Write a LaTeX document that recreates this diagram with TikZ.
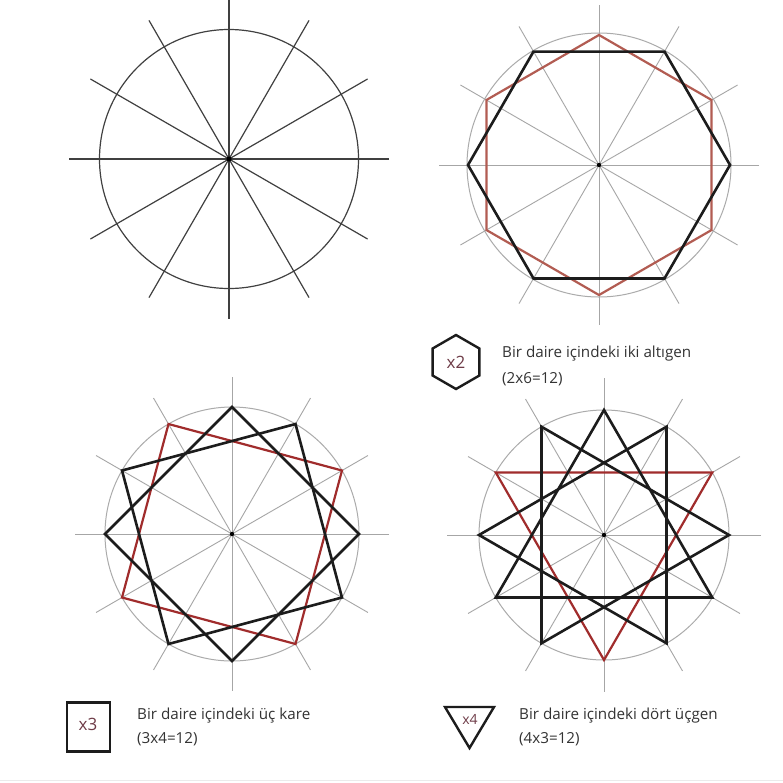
\documentclass[tikz,border=0pt]{standalone}
\usepackage{fontspec}
\setmainfont{Open Sans}
\definecolor{spkA}{HTML}{404040}
\definecolor{spkB}{HTML}{A6A6A6}
\definecolor{circB}{HTML}{ABABAB}
\definecolor{blk}{HTML}{1C1C1C}
\definecolor{redA}{HTML}{B25C52}
\definecolor{redB}{HTML}{A02C2C}
\definecolor{txt}{HTML}{333333}
\definecolor{xcol}{HTML}{6E3B47}
\begin{document}
\begin{tikzpicture}[x=1pt,y=-1pt,
  spokeA/.style={draw=spkA, line width=1.2pt},
  spokeB/.style={draw=spkB, line width=0.9pt},
  circB/.style={draw=circB, line width=1pt},
  blkpoly/.style={draw=blk, line width=2.6pt, line join=miter},
  redpolyA/.style={draw=redA, line width=2.2pt, line join=miter},
  redpolyB/.style={draw=redB, line width=2.2pt, line join=miter},
  lbl/.style={inner sep=0pt, text=txt, font=\fontsize{15.2}{17}\selectfont, anchor=base west},
  xlbl/.style={inner sep=0pt, text=xcol, font=\fontsize{17}{19}\selectfont},
  icon/.style={draw=blk, line width=2.4pt, line join=miter}]
\useasboundingbox[fill=white] (0,0) rectangle (783,782);
\draw[draw=black!8, line width=1pt] (0,780) -- (783,780);

% Panel 1
\begin{scope}[shift={(229,159)},yscale=-1]
  \foreach \a in {0,30,...,150} \draw[spokeA] (\a:160) -- (\a+180:160);
  \draw[spokeA] (0,0) circle (129.5);
  \fill[black] (0,0) circle (2.6);
\end{scope}

% Panel 2: two hexagons
\begin{scope}[shift={(599,165)},yscale=-1]
  \foreach \a in {0,30,...,150} \draw[spokeB] (\a:160) -- (\a+180:160);
  \draw[circB] (0,0) circle (132);
  \fill[black] (0,0) circle (2.2);
  \draw[redpolyA] (30:130) \foreach \a in {90,150,...,330}{ -- (\a:130)} -- cycle;
  \draw[blkpoly] (0:131) \foreach \a in {60,120,...,300}{ -- (\a:131)} -- cycle;
\end{scope}

% Panel 3: three squares
\begin{scope}[shift={(232,534)},yscale=-1]
  \foreach \a in {0,30,...,150} \draw[spokeB] (\a:157) -- (\a+180:157);
  \draw[circB] (0,0) circle (127);
  \fill[black] (0,0) circle (2.2);
  \draw[redpolyB] (30:127) \foreach \a in {120,210,300}{ -- (\a:127)} -- cycle;
  \draw[blkpoly] (0:127) \foreach \a in {90,180,270}{ -- (\a:127)} -- cycle;
  \draw[blkpoly] (60:127) \foreach \a in {150,240,330}{ -- (\a:127)} -- cycle;
\end{scope}

% Panel 4: four triangles
\begin{scope}[shift={(604,535)},yscale=-1]
  \foreach \a in {0,30,...,150} \draw[spokeB] (\a:157) -- (\a+180:157);
  \draw[circB] (0,0) circle (125);
  \fill[black] (0,0) circle (2.2);
  \draw[redpolyB] (30:125) -- (150:125) -- (270:125) -- cycle;
  \draw[blkpoly] (90:125) -- (210:125) -- (330:125) -- cycle;
  \draw[blkpoly] (0:125) -- (120:125) -- (240:125) -- cycle;
  \draw[blkpoly] (60:125) -- (180:125) -- (300:125) -- cycle;
\end{scope}

% Legend: hexagon
\draw[icon] (456,335) -- (479.4,348.5) -- (479.4,375.5) -- (456,389) -- (432.6,375.5) -- (432.6,348.5) -- cycle;
\node[xlbl] (hexicon) at (456,362) {x2};
\node[lbl] (t2a) at (502,357) {Bir daire içindeki iki altıgen};
\node[lbl] (t2b) at (502,383) {(2x6=12)};

% Legend: square
\node[draw=blk, line width=2.4pt, minimum width=43pt, minimum height=49pt, inner sep=0pt] (sqicon) at (88.5,727) {};
\node[xlbl] (sqlbl) at (88,724) {x3};
\node[lbl] (t3a) at (137,719) {Bir daire içindeki üç kare};
\node[lbl] (t3b) at (137,743) {(3x4=12)};

% Legend: triangle
\draw[icon] (445,707) -- (494,707) -- (469.5,748) -- cycle;
\node[xlbl, font=\fontsize{14}{16}\selectfont] (trilbl) at (470,719) {x4};
\node[lbl] (t4a) at (519,719) {Bir daire içindeki dört üçgen};
\node[lbl] (t4b) at (519,743) {(4x3=12)};
\end{tikzpicture}
\end{document}
